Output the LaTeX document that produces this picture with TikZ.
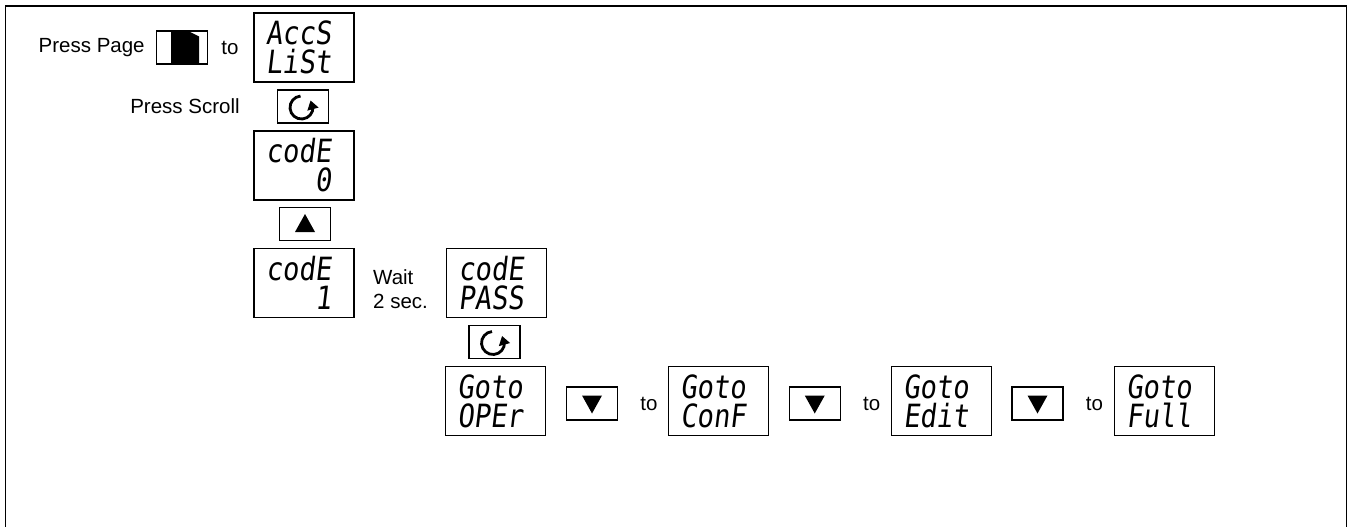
\documentclass[tikz,border=0pt]{standalone}
\usepackage{fontspec}
\setmainfont{Liberation Sans}
\newfontfamily\segfont{DejaVu Sans Mono}[FakeSlant=0.12,FakeStretch=0.85]
\usetikzlibrary{arrows.meta,bending}
\usetikzlibrary{positioning}

\newcommand\scrollarrow[1]{%
  \begin{scope}[shift={(#1.center)},x=1pt,y=1pt]
    \draw[line width=2.8pt,-{Triangle[length=9pt,width=11pt]}]
      (-1.5,-1) ++(95:11.5) arc[start angle=95,end angle=398,radius=11.5];
  \end{scope}}

% two lines of a display, right aligned
\newcommand\segshow[3]{%
  \node[seg] (#1-a) at ([shift={(27.5pt,3pt)}]#1.center) {#2};
  \node[seg] (#1-b) at ([shift={(27.5pt,-26pt)}]#1.center) {#3};}

\begin{document}
\begin{tikzpicture}[x=1pt,y=-1pt,
    disp/.style={draw,line width=1.3pt,minimum width=100pt,minimum height=69pt,inner sep=0pt},
    seg/.style={font=\segfont\fontsize{32}{32}\selectfont,anchor=base east,inner sep=0pt},
    key/.style={draw,line width=1.3pt,minimum width=51pt,minimum height=33pt,inner sep=0pt},
    lbl/.style={font=\fontsize{20.5}{24}\selectfont,inner sep=0pt}]
    \useasboundingbox (0,0) rectangle (1349,527);
    \draw[line width=1.5pt] (5.5,527) -- (5.5,6) -- (1346.5,6) -- (1346.5,527);

    % page key and access list
    \node[key] (pgkey) at (182,47.5) {};
    \fill ([shift={(-11pt,15.5pt)}]pgkey.center) -- ++(19pt,0) -- ++(9pt,-4.5pt)
        -- ++(0,-26.5pt) -- ++(-28pt,0) -- cycle;
    \node[lbl,left=11pt of pgkey] (presspage) {Press Page};
    \node[lbl] (toacc) at (230,47.5) {to};
    \node[disp] (accs) at (304,47.5) {};
    \segshow{accs}{AccS}{LiSt}

    % scroll to code
    \node[key] (scroll0) at (303,106.5) {};
    \scrollarrow{scroll0}
    \node[lbl,left=37pt of scroll0] (pressscroll) {Press Scroll};
    \node[disp] (code0) at (304,165.5) {};
    \segshow{code0}{codE}{0}
    \node[key] (upkey) at (305,224) {};
    \fill ([shift={(-10pt,-8pt)}]upkey.center) -- ++(20pt,0) -- ++(-10pt,18pt) -- cycle;
    \node[disp] (code1) at (304,283) {};
    \segshow{code1}{codE}{1}

    \node[lbl,align=left,anchor=west] (wait) at (373,289) {Wait\\2 sec.};
    \node[disp] (pass) at (496.5,283) {};
    \segshow{pass}{codE}{PASS}
    \node[key] (scroll1) at (494.5,342) {};
    \scrollarrow{scroll1}

    % goto levels
    \foreach \t [count=\i from 0] in {OPEr,ConF,Edit,Full} {
        \node[disp] (goto\i) at (495.5+223*\i,401) {};
        \segshow{goto\i}{Goto}{\t}
    }
    \foreach \i in {0,1,2} {
        \node[key] (down\i) at (592+222.75*\i,403.5) {};
        \fill ([shift={(-10pt,8pt)}]down\i.center) -- ++(20pt,0) -- ++(-10pt,-18pt) -- cycle;
        \node[lbl] (to\i) at (649+222.75*\i,403.5) {to};
    }
\end{tikzpicture}
\end{document}
